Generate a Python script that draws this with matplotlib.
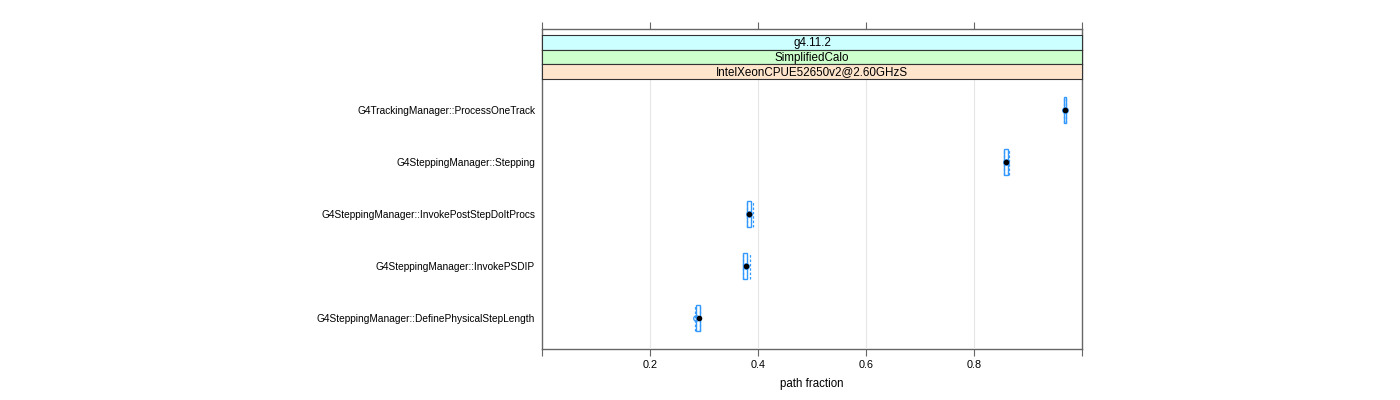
import matplotlib
matplotlib.use("Agg")
import matplotlib.pyplot as plt
from matplotlib.patches import Rectangle

plt.rcParams['font.family'] = ['Liberation Sans', 'DejaVu Sans']

categories = [
    "G4TrackingManager::ProcessOneTrack",
    "G4SteppingManager::Stepping",
    "G4SteppingManager::InvokePostStepDoItProcs",
    "G4SteppingManager::InvokePSDIP",
    "G4SteppingManager::DefinePhysicalStepLength",
]
mean_vals = [0.9685, 0.8598, 0.3839, 0.3772, 0.2902]
median_vals = [0.9685, 0.8598, 0.3839, 0.3772, 0.2846]
box_lo = [0.9675, 0.8561, 0.3796, 0.3728, 0.2846]
box_hi = [0.9695, 0.8624, 0.3865, 0.3802, 0.2920]
whisk_lo = [0.9672, 0.8550, 0.3790, 0.3725, 0.2840]
whisk_hi = [0.9698, 0.8643, 0.3913, 0.3852, 0.2935]
strip_labels = ["g4.11.2", "SimplifiedCalo", "IntelXeonCPUE52650v2@2.60GHzS"]
strip_colors = ["#CCFFFF", "#CCFFCC", "#FFE5CC"]
xticks = [0.0, 0.2, 0.4, 0.6, 0.8, 1.0]
xticklabels = ["", "0.2", "0.4", "0.6", "0.8", ""]

W, H = 1400, 400
fig = plt.figure(figsize=(14, 4), dpi=100)

def fx(px):
    return px / W

def fy(py):
    return 1 - py / H

left, right = 542, 1082
top_frame, strip_top, strip_bot, bottom = 29, 35, 79, 349
frame_col = "#666666"
fs = 7.3

# frame axes
axf = fig.add_axes([fx(left), fy(bottom), fx(right - left), (bottom - top_frame) / H])
axf.set_xlim(0, 1)
axf.set_ylim(0, 1)
axf.patch.set_alpha(0)
for s in axf.spines.values():
    s.set_color(frame_col)
    s.set_linewidth(1.0)
axf.set_xticks(xticks)
axf.set_xticklabels(xticklabels, fontsize=fs + 0.5)
axf.tick_params(axis='x', which='both', top=True, bottom=True, labeltop=False,
                direction='out', length=5, color=frame_col, pad=3)
axf.set_yticks([])
axf.set_xlabel("path fraction", fontsize=fs + 1.0, labelpad=6)

# data axes
ax = fig.add_axes([fx(left), fy(bottom), fx(right - left), (bottom - strip_bot) / H])
ax.set_xlim(0, 1)
ax.set_ylim(0.4, 5.6)
ax.patch.set_alpha(0)
for s in ax.spines.values():
    s.set_visible(False)
n = len(categories)
ypos = [n - i for i in range(n)]
ax.set_yticks(ypos)
ax.set_yticklabels(categories, fontsize=fs)
ax.tick_params(axis='y', length=0, pad=5)
ax.set_xticks([0.2, 0.4, 0.6, 0.8])
ax.tick_params(axis='x', length=0, labelbottom=False)
ax.grid(axis='x', color='#E6E6E6', linewidth=0.8)
ax.set_axisbelow(True)

bc = "#3399FF"
hh = 0.25
for y, lo, hi, wl, wh, m, md in zip(ypos, box_lo, box_hi, whisk_lo, whisk_hi, mean_vals, median_vals):
    ax.add_patch(Rectangle((lo, y - hh), hi - lo, 2 * hh, fill=False, edgecolor=bc, linewidth=1.0, zorder=3))
    ax.vlines([wl, wh], y - hh, y + hh, colors=bc, linestyles=(0, (2, 1.5)), linewidth=0.9, zorder=3)
    ax.plot([md], [y], marker='o', markersize=4.0, markerfacecolor='none', markeredgecolor=bc, markeredgewidth=0.9, zorder=4)
    ax.plot([m], [y], marker='o', markersize=3.0, color='black', zorder=5)

# strips
sh = (strip_bot - strip_top) / 3
for i, (lab, col) in enumerate(zip(strip_labels, strip_colors)):
    y0 = strip_top + i * sh
    axs = fig.add_axes([fx(left), fy(y0 + sh), fx(right - left), sh / H])
    axs.set_xlim(0, 1)
    axs.set_ylim(0, 1)
    axs.set_facecolor(col)
    axs.set_xticks([])
    axs.set_yticks([])
    for s in axs.spines.values():
        s.set_color("#333333")
        s.set_linewidth(0.8)
    axs.text(0.5, 0.45, lab, ha='center', va='center', fontsize=8.4)

fig.savefig("out.png", dpi=100)
